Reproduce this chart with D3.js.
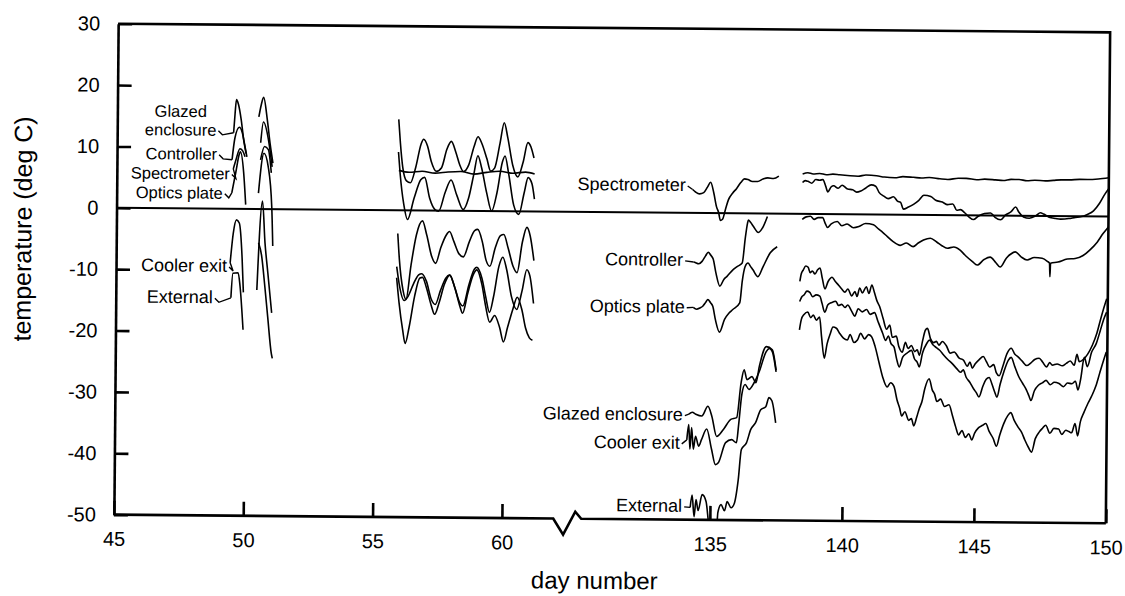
<!DOCTYPE html>
<html>
<head>
<meta charset="utf-8">
<script src="https://cdn.jsdelivr.net/npm/d3@7"></script>
<style>
  body { margin: 0; background: #fff; }
  text { font-family: "Liberation Sans", Arial, Helvetica, sans-serif; fill: #000; }
</style>
</head>
<body>
<div id="chart"></div>
<script>
// tick values
const xTicks = [45, 50, 55, 60, 135, 140, 145, 150];
const yTicks = [30, 20, 10, 0, -10, -20, -30, -40, -50];

// each series: list of recorded stretches, [day, temperature]
const glazed = [
  [[49.5,12.4],[49.55,15.5],[49.6,17.8],[49.68,17],[49.79,14.5],[49.9,11],[49.99,9]],
  [[50.47,15],[50.56,17],[50.65,18.2],[50.8,14.5],[50.92,10.5],[51.03,7.5]],
  [[55.88,14.8],[55.95,11],[56.05,7],[56.2,4.8],[56.35,4.5],[56.55,7],[56.75,10.8],[56.85,11.6],[57.0,10.5],[57.15,8],[57.35,6.4],[57.55,7],[57.75,10],[57.92,11.3],[58.1,9.5],[58.25,7.5],[58.4,6.4],[58.6,7.5],[58.8,10.5],[58.95,12.1],[59.1,11],[59.3,8.5],[59.45,6.5],[59.6,7],[59.8,11],[59.96,14.4],[60.1,12],[60.3,7.5],[60.5,5.6],[60.7,8],[60.88,11.2],[61.0,10.5],[61.12,8.7]],
  [[134.17,-32.8],[134.3,-32.5],[134.43,-32.8],[134.66,-33.1],[134.89,-31.5],[135.04,-33.1],[135.23,-36.4],[135.49,-35.2],[135.76,-33.6],[135.98,-33.3],[136.14,-27.6],[136.25,-25.5],[136.36,-27.1],[136.55,-26.6],[136.7,-27.6],[136.82,-25],[137.08,-21.7],[137.31,-22.2],[137.46,-25.5]],
  [[138.33,-11],[138.38,-9.8],[138.45,-9.2],[138.55,-8.5],[138.64,-8.7],[138.72,-9.6],[138.8,-9.3],[138.9,-9.8],[139.0,-9.1],[139.09,-8.8],[139.18,-10.5],[139.28,-12.2],[139.4,-11],[139.55,-10.3],[139.66,-10.9],[139.8,-11.6],[139.92,-12.2],[140.04,-12.7],[140.15,-12.2],[140.3,-13.3],[140.42,-12.6],[140.5,-13.4],[140.6,-12],[140.7,-12.8],[140.85,-11.8],[140.95,-12.9],[141.06,-11.5],[141.15,-12.6],[141.25,-14],[141.36,-15],[141.5,-17],[141.63,-18.7],[141.75,-18],[141.85,-20],[142.0,-19.8],[142.1,-21.5],[142.23,-22.4],[142.35,-20.8],[142.45,-21.8],[142.58,-21.3],[142.7,-22.3],[142.8,-22],[142.88,-22.9],[143.0,-20.5],[143.1,-18.8],[143.18,-18.5],[143.3,-20.2],[143.42,-20.8],[143.52,-20.6],[143.62,-21.2],[143.75,-20.6],[143.9,-21.3],[144.05,-22.5],[144.2,-22.3],[144.39,-23.3],[144.55,-23.6],[144.7,-24.6],[144.8,-23.9],[144.89,-24.9],[145.0,-24.2],[145.15,-23.5],[145.3,-23],[145.42,-23.8],[145.55,-24.7],[145.7,-24.3],[145.8,-25.6],[145.91,-26.1],[146.05,-24.5],[146.2,-22.5],[146.36,-21.6],[146.5,-22.6],[146.62,-23],[146.78,-23.7],[146.95,-24.4],[147.1,-24],[147.25,-23.4],[147.42,-23.2],[147.55,-23.8],[147.7,-24.6],[147.82,-23.9],[147.92,-24.3],[148.1,-24.1],[148.3,-24.4],[148.45,-24],[148.6,-23.6],[148.75,-24.3],[148.85,-22.5],[148.94,-23.7],[149.1,-23.3],[149.25,-22.5],[149.43,-21],[149.6,-19],[149.75,-16.5],[149.88,-14.5],[149.96,-13.4]]
];

const controller = [
  [[49.45,8],[49.55,11.5],[49.72,13.3],[49.83,12.5],[49.93,10.5],[50.02,8.5]],
  [[50.55,10.8],[50.65,14.2],[50.85,11.3],[51.0,6.9]],
  [[55.88,9.5],[55.95,6],[56.1,1],[56.25,-1.5],[56.5,2],[56.75,5],[56.9,5.4],[57.1,2],[57.3,0.2],[57.45,-0.1],[57.7,3],[57.92,5],[58.15,2.5],[58.4,0.2],[58.6,2],[58.8,6],[58.95,9],[59.1,7],[59.3,3],[59.5,0],[59.7,3],[59.9,8],[60.0,9],[60.15,6],[60.35,1],[60.55,-0.5],[60.75,3],[60.9,5.5],[61.05,4.5],[61.15,2]],
  [[134.3,-8],[134.36,-8.1],[134.5,-8.3],[134.62,-7.9],[134.75,-7],[134.85,-6.4],[134.95,-6.9],[135.04,-7.5],[135.15,-9.8],[135.3,-11.9],[135.45,-10.8],[135.57,-10.3],[135.8,-9.2],[135.95,-8.7],[136.14,-8.1],[136.25,-4],[136.33,-1.6],[136.36,-1.1],[136.45,-1.5],[136.55,-2.1],[136.74,-3.1],[136.93,-2.1],[137.08,-0.5]],
  [[138.4,5.1],[138.5,5.4],[138.6,5.3],[138.75,5.0],[138.9,5.6],[139.05,5.5],[139.17,5.6],[139.28,4.5],[139.36,3.6],[139.48,4.4],[139.58,4.6],[139.75,4.2],[139.9,4.7],[140.11,4.1],[140.3,4.0],[140.45,3.6],[140.61,3.8],[140.8,4.3],[141.0,4.8],[141.17,4.6],[141.3,3.6],[141.48,3],[141.65,2.6],[141.85,2.9],[142.0,2.2],[142.12,2],[142.23,0.9],[142.4,1.2],[142.61,1.7],[142.8,2.3],[143.0,3.2],[143.26,3],[143.45,2.4],[143.7,2.1],[143.9,1.7],[144.1,1.8],[144.25,0.8],[144.39,0.9],[144.55,0.4],[144.72,-0.3],[144.89,-0.7],[145.05,-0.2],[145.3,0.3],[145.53,0.4],[145.7,-0.3],[145.91,-0.7],[146.1,0.1],[146.3,0.6],[146.48,1.4],[146.6,0.6],[146.78,-0.2],[147.0,-0.4],[147.25,0],[147.42,0.5],[147.54,0.3],[147.75,-0.2],[148.0,-0.4],[148.18,-0.5],[148.5,-0.4],[148.75,-0.2],[148.94,-0.1],[149.2,0.3],[149.43,0.9],[149.65,2.1],[149.85,3.6],[150,4.5]]
];

const spectrometer = [
  [[49.5,6.5],[49.6,8],[49.75,9.8],[49.85,9.5],[49.95,8.5]],
  [[50.55,8],[50.7,10.2],[50.85,9.7],[50.97,5.9]],
  [[55.9,6.5],[56.3,6.2],[56.8,6.4],[57.3,6.1],[57.8,6.3],[58.3,6.4],[58.8,6.0],[59.3,6.3],[59.8,6.5],[60.3,6.2],[60.8,6.4],[61.15,6.1]],
  [[134.24,3.8],[134.35,3.4],[134.5,3.1],[134.66,3.3],[134.8,4.2],[134.92,5],[135.04,3.3],[135.15,1],[135.23,0.1],[135.3,-1.2],[135.38,-1],[135.5,0.8],[135.6,2.2],[135.76,3.3],[135.9,4],[136.06,5],[136.2,5.6],[136.33,5.5],[136.5,5.2],[136.7,5.2],[136.9,5.6],[137.08,5.8],[137.3,5.7],[137.5,6.1]],
  [[138.4,6.5],[138.6,6.7],[138.8,6.5],[139.05,6.6],[139.3,6.4],[139.55,6.5],[139.8,6.4],[140.1,6.3],[140.5,6.2],[140.8,6.4],[141.2,6.3],[141.5,6.1],[141.9,6.0],[142.2,6.2],[142.6,6.1],[142.9,6.0],[143.2,6.1],[143.6,5.9],[143.9,5.8],[144.3,6.0],[144.6,6.0],[145.0,5.8],[145.3,5.9],[145.7,5.8],[146.0,5.7],[146.3,5.9],[146.6,5.9],[146.9,5.7],[147.2,5.8],[147.6,5.7],[147.9,5.8],[148.2,5.9],[148.5,5.9],[148.9,6.0],[149.2,6.0],[149.6,6.1],[150,6.3]]
];

const optics = [
  [[49.45,2.6],[49.6,6],[49.72,8.8],[49.77,9.3],[49.9,6],[49.99,0.7]],
  [[50.48,2.6],[50.68,9.1],[50.85,6.9],[51.0,0.3],[51.05,-6]],
  [[55.88,-3.8],[55.95,-8],[56.1,-13],[56.22,-14.5],[56.4,-9],[56.6,-4],[56.83,-1.7],[57.0,-4],[57.2,-7.5],[57.35,-8.6],[57.55,-6],[57.75,-4],[57.88,-3.4],[58.05,-5],[58.25,-7],[58.42,-7.5],[58.65,-5],[58.85,-3.2],[58.97,-3],[59.15,-5],[59.3,-8],[59.45,-9],[59.65,-6],[59.85,-4],[59.98,-3.8],[60.15,-6],[60.35,-9],[60.5,-10],[60.7,-5],[60.87,-2.6],[61.0,-4],[61.15,-8]],
  [[134.3,-15.4],[134.43,-15.7],[134.55,-15.5],[134.66,-15.2],[134.78,-14.5],[134.85,-14.1],[134.95,-14.6],[135.04,-15.2],[135.15,-17.5],[135.3,-19.4],[135.49,-17.3],[135.65,-16.3],[135.8,-15.7],[136.06,-14.6],[136.15,-11],[136.25,-8.7],[136.36,-8.1],[136.45,-8.6],[136.55,-9.2],[136.74,-10.3],[136.93,-8.7],[137.2,-6.4],[137.46,-5.4]],
  [[138.4,-0.9],[138.55,-0.5],[138.71,-0.4],[138.85,-0.9],[139.0,-0.6],[139.17,-0.6],[139.28,-1.6],[139.36,-2.2],[139.5,-1.6],[139.73,-1.2],[139.9,-1.9],[140.1,-1.6],[140.34,-2.2],[140.55,-2.0],[140.8,-1.5],[141.1,-1.7],[141.3,-2.4],[141.45,-2.9],[141.63,-3.6],[141.85,-4.4],[142.12,-5],[142.35,-4.6],[142.61,-5.2],[142.8,-4.6],[143.0,-4.1],[143.26,-3.8],[143.5,-4.4],[143.7,-5.0],[143.9,-5.4],[144.15,-5.2],[144.39,-5.7],[144.6,-6.6],[144.85,-7.5],[145.04,-8.1],[145.3,-7.2],[145.53,-6.8],[145.75,-7.7],[145.91,-8.4],[146.15,-6.9],[146.3,-6.3],[146.48,-5.9],[146.7,-6.7],[146.93,-7.2],[147.2,-6.8],[147.5,-6.9],[147.7,-7.4],[147.78,-7.7],[147.8,-9.9],[147.82,-7.7],[148.1,-7.5],[148.45,-7],[148.75,-6.9],[149.05,-6.4],[149.3,-5.5],[149.58,-4.2],[149.8,-2.8],[150,-1.7]]
];

const cooler = [
  [[49.41,-8.8],[49.52,-4],[49.64,-1.8],[49.75,-2.3],[49.87,-8],[49.93,-13.6]],
  [[50.45,-13.2],[50.64,1.3],[50.75,-5.5],[50.87,-10.4],[51.03,-16.9]],
  [[55.85,-9.2],[55.95,-12],[56.15,-14.7],[56.3,-14],[56.5,-12],[56.7,-10.5],[56.82,-10.3],[57.0,-11.5],[57.2,-14.5],[57.35,-15.3],[57.55,-13],[57.75,-11],[57.9,-10.5],[58.1,-12.5],[58.3,-15],[58.42,-15.5],[58.65,-12],[58.85,-9.5],[58.95,-9.2],[59.15,-11],[59.3,-14],[59.45,-16.5],[59.6,-14],[59.8,-9],[59.95,-7.5],[60.1,-9.5],[60.3,-14],[60.5,-16],[60.7,-13],[60.88,-9.5],[61.0,-10.5],[61.15,-15]],
  [[134.1,-37],[134.17,-34.5],[134.22,-38.5],[134.28,-35],[134.35,-38.5],[134.43,-36.4],[134.55,-38],[134.66,-36.9],[134.85,-35.2],[135.04,-38.5],[135.19,-41],[135.3,-40.7],[135.57,-37.4],[135.8,-36.9],[135.98,-37.4],[136.06,-34.4],[136.17,-29.5],[136.29,-27.9],[136.44,-28.7],[136.63,-27.6],[136.82,-25.8],[137.08,-22.5],[137.2,-22],[137.31,-22.5],[137.46,-25.8]],
  [[138.33,-14.3],[138.4,-13.6],[138.5,-13.2],[138.6,-12.6],[138.71,-12.8],[138.82,-13.5],[138.95,-13.2],[139.09,-13.4],[139.18,-14.6],[139.28,-16],[139.4,-14.8],[139.55,-14.4],[139.7,-14.2],[139.8,-14.9],[139.92,-14.7],[140.05,-15.2],[140.15,-14.8],[140.3,-15.8],[140.42,-16.6],[140.55,-15.4],[140.7,-15.9],[140.87,-15.5],[141.0,-16.3],[141.17,-16],[141.3,-17.4],[141.48,-19.3],[141.6,-20.5],[141.7,-19.8],[141.8,-21],[141.92,-21.6],[142.02,-23.5],[142.12,-24.8],[142.25,-23.2],[142.4,-22.6],[142.58,-22.1],[142.7,-23.5],[142.8,-24],[142.88,-24.8],[143.0,-22.5],[143.15,-21],[143.26,-20.4],[143.4,-21.2],[143.52,-21.6],[143.64,-22],[143.8,-22.8],[143.95,-23.5],[144.13,-24.2],[144.3,-25],[144.45,-25.6],[144.55,-25.2],[144.66,-26.4],[144.8,-27.2],[144.95,-28.3],[145.05,-28.9],[145.15,-29.6],[145.3,-27.8],[145.42,-26.7],[145.53,-26.4],[145.65,-27.6],[145.75,-28.8],[145.83,-29.6],[145.95,-27.5],[146.1,-25.3],[146.25,-23.6],[146.36,-23.1],[146.5,-24.6],[146.65,-26.2],[146.8,-27.3],[146.95,-28.4],[147.05,-29.4],[147.12,-30.1],[147.25,-28.5],[147.4,-27.6],[147.55,-27.2],[147.69,-26.8],[147.85,-27.5],[148.0,-27.1],[148.18,-27.3],[148.35,-27.8],[148.5,-27.2],[148.67,-27.3],[148.8,-26.9],[148.9,-28.3],[149.0,-26.5],[149.13,-23],[149.25,-24.5],[149.4,-22.2],[149.58,-20.7],[149.72,-18.7],[149.85,-16.8],[149.96,-15.6]]
];

const external = [
  [[49.45,-14.5],[49.52,-10.5],[49.72,-10.4],[49.8,-12.6],[49.93,-19.7]],
  [[50.5,-5.5],[50.62,-7.5],[50.76,-12.7],[50.88,-17.6],[51.03,-23.5],[51.07,-24.3]],
  [[55.85,-11],[55.95,-15],[56.1,-19.5],[56.2,-21.7],[56.35,-19],[56.55,-14],[56.75,-11],[56.85,-10.9],[57.0,-12.5],[57.2,-15.5],[57.33,-16.9],[57.5,-15],[57.7,-12],[57.9,-10.5],[58.1,-12.5],[58.3,-15.5],[58.41,-16.7],[58.6,-13.5],[58.8,-10.5],[58.95,-9.6],[59.15,-12],[59.3,-15.5],[59.46,-18.1],[59.65,-17],[59.85,-19],[60.0,-21.3],[60.15,-19],[60.35,-16],[60.52,-14],[60.7,-16],[60.85,-19],[61.0,-20.6],[61.12,-21]],
  [[134.25,-48],[134.32,-46],[134.4,-49.5],[134.47,-46.7],[134.55,-48.5],[134.7,-45.9],[134.85,-47],[134.95,-50.5],[135.0,-52],[135.25,-52],[135.3,-48.8],[135.42,-47.5],[135.55,-48.5],[135.65,-47],[135.8,-48],[135.92,-47.3],[136.06,-43.5],[136.17,-38.5],[136.36,-37.4],[136.52,-35.2],[136.7,-34.1],[136.89,-32],[137.08,-31.5],[137.2,-30],[137.31,-30.5],[137.46,-34.1]],
  [[138.33,-18.9],[138.4,-17.2],[138.5,-16.4],[138.64,-16],[138.75,-16.9],[138.85,-16.5],[138.97,-17.3],[139.09,-16.8],[139.17,-20],[139.28,-23.5],[139.38,-21.2],[139.5,-19.5],[139.6,-18.4],[139.73,-18.6],[139.85,-19.4],[140.0,-20.2],[140.15,-20.5],[140.25,-19.6],[140.4,-20.9],[140.53,-20.5],[140.65,-19.4],[140.8,-20.3],[140.95,-19.6],[141.06,-19.9],[141.2,-21.5],[141.36,-24.2],[141.5,-26.5],[141.67,-28.1],[141.8,-27.4],[141.93,-28],[142.05,-30.2],[142.15,-31.5],[142.23,-32.8],[142.35,-32.1],[142.5,-33.5],[142.6,-33.2],[142.69,-34.4],[142.8,-33],[142.9,-31.5],[142.99,-30.5],[143.1,-28.3],[143.26,-26.7],[143.38,-28.5],[143.47,-29.2],[143.56,-30.4],[143.7,-30],[143.85,-31.2],[144.02,-30.9],[144.15,-32.6],[144.28,-34.5],[144.39,-35.8],[144.52,-35.1],[144.65,-36.2],[144.78,-35.6],[144.89,-36.6],[145.0,-35.5],[145.15,-34.6],[145.3,-34.2],[145.42,-33.9],[145.55,-35.2],[145.7,-36.3],[145.83,-37.6],[145.95,-35.8],[146.1,-33.9],[146.25,-32.6],[146.36,-32.1],[146.5,-33.4],[146.65,-34.5],[146.78,-35.3],[146.9,-36.5],[147.05,-37.8],[147.16,-38.5],[147.3,-36.3],[147.45,-35.2],[147.57,-34.6],[147.69,-34.1],[147.85,-35.4],[148.0,-34.6],[148.18,-34.7],[148.3,-35.6],[148.45,-34.9],[148.57,-35.1],[148.67,-35.3],[148.8,-33.8],[148.9,-35.8],[149.0,-33.5],[149.13,-32],[149.28,-30.5],[149.43,-29.2],[149.58,-27.6],[149.72,-25.5],[149.85,-23.6],[149.96,-22.1]]
];

const series = {
  "Glazed enclosure": glazed,
  "Controller": controller,
  "Spectrometer": spectrometer,
  "Optics plate": optics,
  "Cooler exit": cooler,
  "External": external
};

// label placement, offset from the first point of a stretch
const labelSpec = [
  { name: "Glazed enclosure", seg: 0, lines: ["Glazed", "enclosure"], dx: -53, dy: 3.2, anchor: "middle", hook: true, size: 16.5 },
  { name: "Controller", seg: 0, lines: ["Controller"], dx: -15, dy: 0.2, anchor: "end", hook: true, size: 16.5 },
  { name: "Spectrometer", seg: 0, lines: ["Spectrometer"], dx: -3.4, dy: 10.5, anchor: "end", hook: true, size: 16.5 },
  { name: "Optics plate", seg: 0, lines: ["Optics plate"], dx: -9, dy: 6, anchor: "end", hook: true, size: 16.5 },
  { name: "Cooler exit", seg: 0, lines: ["Cooler exit"], dx: -3, dy: 9.1, anchor: "end", hook: true, size: 18 },
  { name: "External", seg: 0, lines: ["External"], dx: -18, dy: 5.6, anchor: "end", hook: true, size: 18 },
  { name: "Spectrometer", seg: 3, lines: ["Spectrometer"], dx: -7, dy: 1.5, anchor: "end", hook: false, size: 18 },
  { name: "Controller", seg: 3, lines: ["Controller"], dx: -10.5, dy: 4, anchor: "end", hook: false, size: 18 },
  { name: "Optics plate", seg: 3, lines: ["Optics plate"], dx: -8.5, dy: 5.5, anchor: "end", hook: false, size: 18 },
  { name: "Glazed enclosure", seg: 3, lines: ["Glazed enclosure"], dx: -6, dy: 6.5, anchor: "end", hook: false, size: 18 },
  { name: "Cooler exit", seg: 3, lines: ["Cooler exit"], dx: -7, dy: 9, anchor: "end", hook: false, size: 18 },
  { name: "External", seg: 3, lines: ["External"], dx: -8, dy: 4.5, anchor: "end", hook: false, size: 18 }
];

const W = 1125, H = 596;
const L = 116, R = 1108, T = 28, B = 519;

// broken day axis: 45..62.5 then 130..150
const x = d3.scaleLinear()
  .domain([45, 62.5, 130, 150])
  .range([L, 568.7, 580, R]);
const y = d3.scaleLinear()
  .domain([-50, 30])
  .range([B, T]);

const svg = d3.select("#chart").append("svg")
  .attr("width", W)
  .attr("height", H);

svg.append("rect").attr("width", W).attr("height", H).attr("fill", "#fff");

// the original scan sits slightly tilted
const g = svg.append("g")
  .attr("transform", "rotate(0.5 612 273.5)");

g.append("clipPath").attr("id", "plot-clip")
  .append("rect")
  .attr("x", L).attr("y", T)
  .attr("width", R - L).attr("height", B - T);

const plain = d => String(d);   // hyphen minus, as in the original

// y axis
const yAxis = g.append("g")
  .attr("transform", `translate(${L},0)`)
  .call(d3.axisLeft(y).tickValues(yTicks).tickSize(-14).tickSizeOuter(0).tickPadding(18).tickFormat(plain))
  .attr("font-family", null)
  .attr("font-size", null);
yAxis.select(".domain").attr("stroke", "#000").attr("stroke-width", 2.6);
yAxis.selectAll(".tick line").attr("stroke", "#000").attr("stroke-width", 2.6);
yAxis.selectAll(".tick text").style("font-size", "20px");

// x axis ticks and labels
const xAxis = g.append("g")
  .attr("transform", `translate(0,${B})`)
  .call(d3.axisBottom(x).tickValues(xTicks).tickSize(-14).tickPadding(17).tickFormat(plain))
  .attr("font-family", null)
  .attr("font-size", null);
xAxis.select(".domain").remove();
xAxis.selectAll(".tick line").attr("stroke", "#000").attr("stroke-width", 2.6);
xAxis.selectAll(".tick text").style("font-size", "20px");

// bottom line with the break mark
const bx = (x(62.5) + x(130)) / 2;
g.append("path")
  .attr("d", d3.line()([[L, B], [bx - 19, B], [bx - 9, B + 16], [bx + 3, B - 7], [bx + 9, B], [R, B]]))
  .attr("fill", "none")
  .attr("stroke", "#000")
  .attr("stroke-width", 2.6)
  .attr("stroke-linejoin", "miter");

// top and right frame
g.append("path")
  .attr("d", d3.line()([[L, T], [R, T], [R, B]]))
  .attr("fill", "none")
  .attr("stroke", "#000")
  .attr("stroke-width", 2.6);

// zero line
g.append("line")
  .attr("x1", L).attr("x2", R)
  .attr("y1", y(0)).attr("y2", y(0))
  .attr("stroke", "#000")
  .attr("stroke-width", 2);

// data lines
const line = d3.line()
  .x(d => x(d[0]))
  .y(d => y(d[1]))
  .curve(d3.curveMonotoneX);

const lines = g.append("g").attr("clip-path", "url(#plot-clip)");
Object.entries(series).forEach(([name, segs]) => {
  lines.selectAll(null)
    .data(segs)
    .enter()
    .append("path")
    .attr("class", "series")
    .attr("d", line)
    .attr("fill", "none")
    .attr("stroke", "#000")
    .attr("stroke-width", 1.6)
    .attr("stroke-linejoin", "round");
});

// series labels with short leaders
const labels = g.append("g");
labelSpec.forEach(s => {
  const first = series[s.name][s.seg][0];
  const fx = x(first[0]), fy = y(first[1]);
  const tx = fx + s.dx, ty = fy + s.dy;
  const n = s.lines.length;
  const t = labels.append("text")
    .attr("text-anchor", s.anchor)
    .style("font-size", s.size + "px");
  s.lines.forEach((ln, i) => {
    t.append("tspan")
      .attr("x", tx)
      .attr("y", ty - (n - 1 - i) * 18.5)
      .text(ln);
  });
  const last = t.select("tspan:last-child").node();
  const ex = tx + (s.anchor === "middle" ? last.getComputedTextLength() / 2 : 0);
  const pts = s.hook
    ? [[ex + 2, ty - 5], [ex + 6, ty - 1], [fx, fy]]
    : [[ex + 2, ty - 5], [fx, fy]];
  labels.append("path")
    .attr("d", d3.line()(pts))
    .attr("fill", "none")
    .attr("stroke", "#000")
    .attr("stroke-width", 1.4);
});

// axis titles
g.append("text")
  .attr("transform", "translate(31,234) rotate(-90)")
  .attr("text-anchor", "middle")
  .style("font-size", "25px")
  .text("temperature (deg C)");

g.append("text")
  .attr("x", 597)
  .attr("y", 589)
  .attr("text-anchor", "middle")
  .style("font-size", "24px")
  .text("day number");
</script>
</body>
</html>
